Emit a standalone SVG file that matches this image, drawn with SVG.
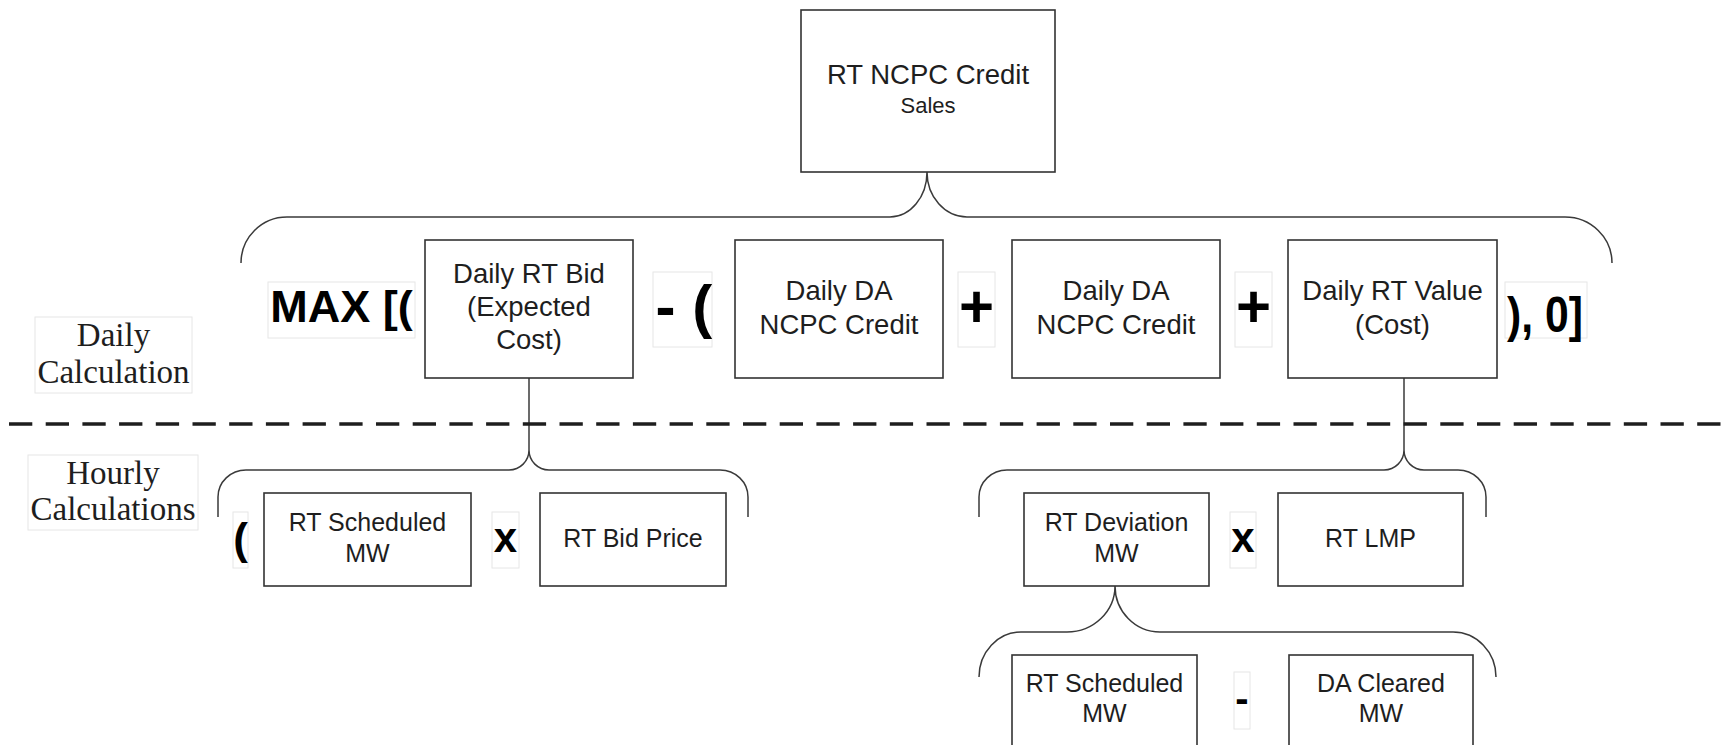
<svg xmlns="http://www.w3.org/2000/svg" width="1723" height="745" viewBox="0 0 1723 745">
<style>
.box{fill:#fff;stroke:#333;stroke-width:1.6}
.tbox{fill:#fff;stroke:#e6e6e6;stroke-width:1}
.t{font-family:"Liberation Sans",Arial,sans-serif;fill:#1e1e1e;text-anchor:middle}
.d{font-size:27.5px}
.h{font-size:25px}
.op{font-family:"Liberation Sans",Arial,sans-serif;font-weight:bold;fill:#000}
.lbl{font-family:"Liberation Serif","Times New Roman",serif;font-size:33px;fill:#1e1e1e;text-anchor:middle}
.br{fill:none;stroke:#3a3a3a;stroke-width:1.5}
</style>
<rect width="1723" height="745" fill="#fff"/>

<g id="connectors">
  <!-- top brace -->
  <path class="br" d="M241 263 A46 46 0 0 1 287 217 L890 217 A37 45 0 0 0 927 172 A40 45 0 0 0 967 217 L1565 217 A47 46 0 0 1 1612 263"/>
  <!-- left hourly brace -->
  <path class="br" d="M529 378 L529 450"/>
  <path class="br" d="M218 517 L218 497 A28 27 0 0 1 246 470 L509 470 A20 20 0 0 0 529 450 A20 20 0 0 0 549 470 L720 470 A28 27 0 0 1 748 497 L748 517"/>
  <!-- right hourly brace -->
  <path class="br" d="M1404 378 L1404 450"/>
  <path class="br" d="M979 517 L979 497 A28 27 0 0 1 1007 470 L1384 470 A20 20 0 0 0 1404 450 A20 20 0 0 0 1424 470 L1458 470 A28 27 0 0 1 1486 497 L1486 517"/>
  <!-- lower brace -->
  <path class="br" d="M979 677 A42 45 0 0 1 1021 632 L1067 632 A48 46 0 0 0 1115 586 A45 46 0 0 0 1160 632 L1453 632 A43 45 0 0 1 1496 677"/>
  <!-- separator -->
  <line x1="9" y1="424" x2="1723" y2="424" stroke="#1e1e1e" stroke-width="3.5" stroke-dasharray="23.3 13.4"/>
</g>

<g id="label-daily">
  <rect class="tbox" x="35" y="317" width="157" height="76"/>
  <text class="lbl" x="113.5" y="346">Daily</text>
  <text class="lbl" x="113.5" y="383">Calculation</text>
</g>
<g id="label-hourly">
  <rect class="tbox" x="28" y="455" width="170" height="75"/>
  <text class="lbl" x="113" y="484">Hourly</text>
  <text class="lbl" x="113" y="520">Calculations</text>
</g>

<g id="node-rt-ncpc-credit">
  <rect class="box" x="801" y="10" width="254" height="162"/>
  <text class="t" x="928" y="84" font-size="27.5">RT NCPC Credit</text>
  <text class="t" x="928" y="113" font-size="22">Sales</text>
</g>

<g id="op-max">
  <rect class="tbox" x="268" y="282" width="147" height="56"/>
  <text class="op" x="341.5" y="322" font-size="45" text-anchor="middle">MAX [(</text>
</g>
<g id="node-daily-rt-bid">
  <rect class="box" x="425" y="240" width="208" height="138"/>
  <text class="t d" x="529" y="283">Daily RT Bid</text>
  <text class="t d" x="529" y="316">(Expected</text>
  <text class="t d" x="529" y="349">Cost)</text>
</g>
<g id="op-minus-paren">
  <rect class="tbox" x="653" y="272" width="59" height="75"/>
  <text class="op" x="655.5" y="327" font-size="60">- (</text>
</g>
<g id="node-daily-da-1">
  <rect class="box" x="735" y="240" width="208" height="138"/>
  <text class="t d" x="839" y="300">Daily DA</text>
  <text class="t d" x="839" y="334">NCPC Credit</text>
</g>
<g id="op-plus-1">
  <rect class="tbox" x="958" y="272" width="37" height="75"/>
  <text class="op" x="976.5" y="327" font-size="60" text-anchor="middle">+</text>
</g>
<g id="node-daily-da-2">
  <rect class="box" x="1012" y="240" width="208" height="138"/>
  <text class="t d" x="1116" y="300">Daily DA</text>
  <text class="t d" x="1116" y="334">NCPC Credit</text>
</g>
<g id="op-plus-2">
  <rect class="tbox" x="1235" y="272" width="37" height="75"/>
  <text class="op" x="1253.5" y="327" font-size="60" text-anchor="middle">+</text>
</g>
<g id="node-daily-rt-value">
  <rect class="box" x="1288" y="240" width="209" height="138"/>
  <text class="t d" x="1392.5" y="300">Daily RT Value</text>
  <text class="t d" x="1392.5" y="334">(Cost)</text>
</g>
<g id="op-close">
  <rect class="tbox" x="1505" y="282" width="82" height="56"/>
  <text class="op" x="1507" y="332" font-size="50" textLength="76" lengthAdjust="spacingAndGlyphs">), 0]</text>
</g>

<g id="op-paren-hourly">
  <rect class="tbox" x="233" y="512" width="15" height="56"/>
  <text class="op" x="240.5" y="554" font-size="44" text-anchor="middle">(</text>
</g>
<g id="node-rt-scheduled-mw-1">
  <rect class="box" x="264" y="493" width="207" height="93"/>
  <text class="t h" x="367.5" y="531">RT Scheduled</text>
  <text class="t h" x="367.5" y="562">MW</text>
</g>
<g id="op-x-1">
  <rect class="tbox" x="492" y="512" width="27" height="56"/>
  <text class="op" x="505.5" y="552" font-size="42" text-anchor="middle">x</text>
</g>
<g id="node-rt-bid-price">
  <rect class="box" x="540" y="493" width="186" height="93"/>
  <text class="t h" x="633" y="547">RT Bid Price</text>
</g>

<g id="node-rt-deviation-mw">
  <rect class="box" x="1024" y="493" width="185" height="93"/>
  <text class="t h" x="1116.5" y="531">RT Deviation</text>
  <text class="t h" x="1116.5" y="562">MW</text>
</g>
<g id="op-x-2">
  <rect class="tbox" x="1230" y="512" width="26" height="56"/>
  <text class="op" x="1243" y="552" font-size="42" text-anchor="middle">x</text>
</g>
<g id="node-rt-lmp">
  <rect class="box" x="1278" y="493" width="185" height="93"/>
  <text class="t h" x="1370.5" y="547">RT LMP</text>
</g>

<g id="node-rt-scheduled-mw-2">
  <rect class="box" x="1012" y="655" width="185" height="120"/>
  <text class="t h" x="1104.5" y="692">RT Scheduled</text>
  <text class="t h" x="1104.5" y="722">MW</text>
</g>
<g id="op-minus-lower">
  <rect class="tbox" x="1234" y="672" width="16" height="57"/>
  <text class="op" x="1242" y="712" font-size="40" text-anchor="middle">-</text>
</g>
<g id="node-da-cleared-mw">
  <rect class="box" x="1289" y="655" width="184" height="120"/>
  <text class="t h" x="1381" y="692">DA Cleared</text>
  <text class="t h" x="1381" y="722">MW</text>
</g>
</svg>
